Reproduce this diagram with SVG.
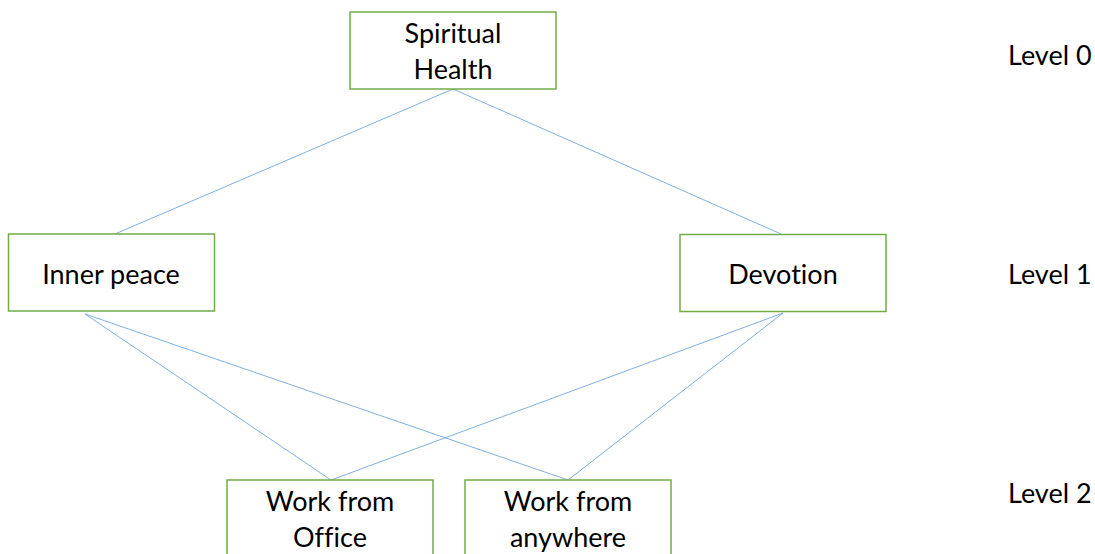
<svg xmlns="http://www.w3.org/2000/svg" width="1095" height="554" viewBox="0 0 1095 554">
  <style>
    .box { fill: #ffffff; stroke: #70ad47; stroke-width: 1.5; }
    .lbl { font-family: Lato, "Open Sans", sans-serif; font-size: 27px; fill: #000000; text-anchor: middle; font-variant-ligatures: none; font-feature-settings: "liga" 0; }
    .lvl { font-family: Lato, "Open Sans", sans-serif; font-size: 27px; fill: #000000; text-anchor: start; font-variant-ligatures: none; }
    .edge { stroke: #7fb0e0; stroke-width: 1; fill: none; }
  </style>
  <rect width="1095" height="554" fill="#ffffff"/>

  <g id="connectors">
    <line class="edge" x1="453" y1="89" x2="115" y2="234"/>
    <line class="edge" x1="453" y1="89" x2="781" y2="234"/>
    <line class="edge" x1="85" y1="314" x2="331" y2="480"/>
    <line class="edge" x1="85" y1="314" x2="568" y2="480"/>
    <line class="edge" x1="783" y1="313" x2="331" y2="480"/>
    <line class="edge" x1="783" y1="313" x2="568" y2="480"/>
  </g>

  <g id="spiritual-health">
    <rect class="box" x="350" y="12" width="206" height="77"/>
    <text class="lbl" x="453" y="43">Spiritual</text>
    <text class="lbl" x="453" y="79">Health</text>
  </g>

  <g id="inner-peace">
    <rect class="box" x="8.5" y="234" width="206" height="77"/>
    <text class="lbl" x="111" y="284">Inner peace</text>
  </g>

  <g id="devotion">
    <rect class="box" x="680" y="234.5" width="206" height="77"/>
    <text class="lbl" x="783" y="284">Devotion</text>
  </g>

  <g id="work-from-office">
    <rect class="box" x="227" y="480" width="206" height="80"/>
    <text class="lbl" x="330" y="511">Work from</text>
    <text class="lbl" x="330" y="547">Office</text>
  </g>

  <g id="work-from-anywhere">
    <rect class="box" x="465" y="480" width="206" height="80"/>
    <text class="lbl" x="568" y="511">Work from</text>
    <text class="lbl" x="568" y="547">anywhere</text>
  </g>

  <g id="levels">
    <text class="lvl" x="1008" y="65">Level 0</text>
    <text class="lvl" x="1008" y="284">Level 1</text>
    <text class="lvl" x="1008" y="503">Level 2</text>
  </g>
</svg>
